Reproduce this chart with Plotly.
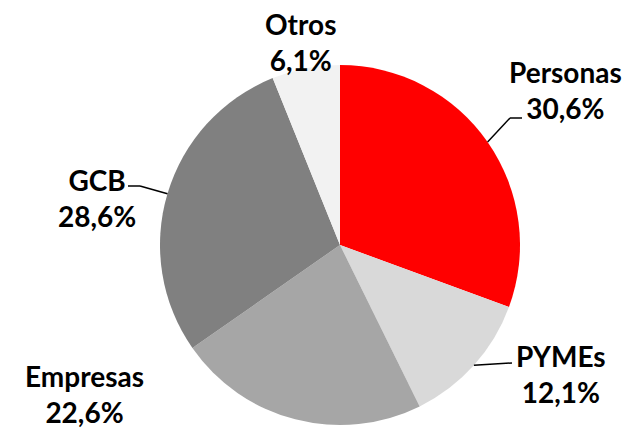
import math

import plotly.graph_objects as go

W, H = 628, 429

segments = ["Personas", "PYMEs", "Empresas", "GCB", "Otros"]
shares = [30.6, 12.1, 22.6, 28.6, 6.1]
colors = ["#ff0000", "#d9d9d9", "#a6a6a6", "#808080", "#f2f2f2"]

# pie placement in pixels (centre and radius)
CX, CY, R = 340, 245, 180

# label block centres in px (two lines: name, value)
label_pos = {
    "Personas": (565, 90),
    "PYMEs": (561, 374),
    "Empresas": (84, 394),
    "GCB": (97, 198),
    "Otros": (300, 42),
}
# leader line points after the slice edge, None = no leader
leader_path = {
    "Personas": [(510, 118), (522, 118)],
    "PYMEs": [(512, 363)],
    "Empresas": None,
    "GCB": [(140, 186), (128, 186)],
    "Otros": None,
}

FONT = dict(family="Lato, 'Open Sans', sans-serif", size=28, color="#000000")


def px(x, y):
    return x / W, 1 - y / H


def fmt(v):
    return f"{v:.1f}".replace(".", ",") + "%"


fig = go.Figure(
    go.Pie(
        labels=segments,
        values=shares,
        sort=False,
        direction="clockwise",
        rotation=0,
        marker=dict(colors=colors, line=dict(width=0)),
        textinfo="none",
        hoverinfo="label+percent",
        domain=dict(x=[(CX - R) / W, (CX + R) / W], y=[1 - (CY + R) / H, 1 - (CY - R) / H]),
        showlegend=False,
    )
)

total = sum(shares)
cum = 0.0
annotations = []
shapes = []
for name, v in zip(segments, shares):
    mid = (cum + v / 2) / total * 2 * math.pi
    cum += v
    sx, sy = CX + R * math.sin(mid), CY - R * math.cos(mid)
    ax, ay = px(*label_pos[name])
    annotations.append(
        dict(
            x=ax, y=ay, xref="paper", yref="paper",
            xanchor="center", yanchor="middle", align="center",
            text=f"<b>{name}</b><br><b>{fmt(v)}</b>",
            showarrow=False, font=FONT,
        )
    )
    path = leader_path[name]
    if path:
        pts = [(sx, sy)] + path
        for (x0, y0), (x1, y1) in zip(pts[:-1], pts[1:]):
            p0, p1 = px(x0, y0), px(x1, y1)
            shapes.append(
                dict(type="line", xref="paper", yref="paper",
                     x0=p0[0], y0=p0[1], x1=p1[0], y1=p1[1],
                     line=dict(color="#000000", width=1.5))
            )

fig.update_layout(
    width=W,
    height=H,
    margin=dict(l=0, r=0, t=0, b=0),
    paper_bgcolor="#ffffff",
    plot_bgcolor="#ffffff",
    annotations=annotations,
    shapes=shapes,
)

fig.write_html(
    "out.html",
    config={"displayModeBar": False},
    post_script="document.body.style.margin='0px';",
)
